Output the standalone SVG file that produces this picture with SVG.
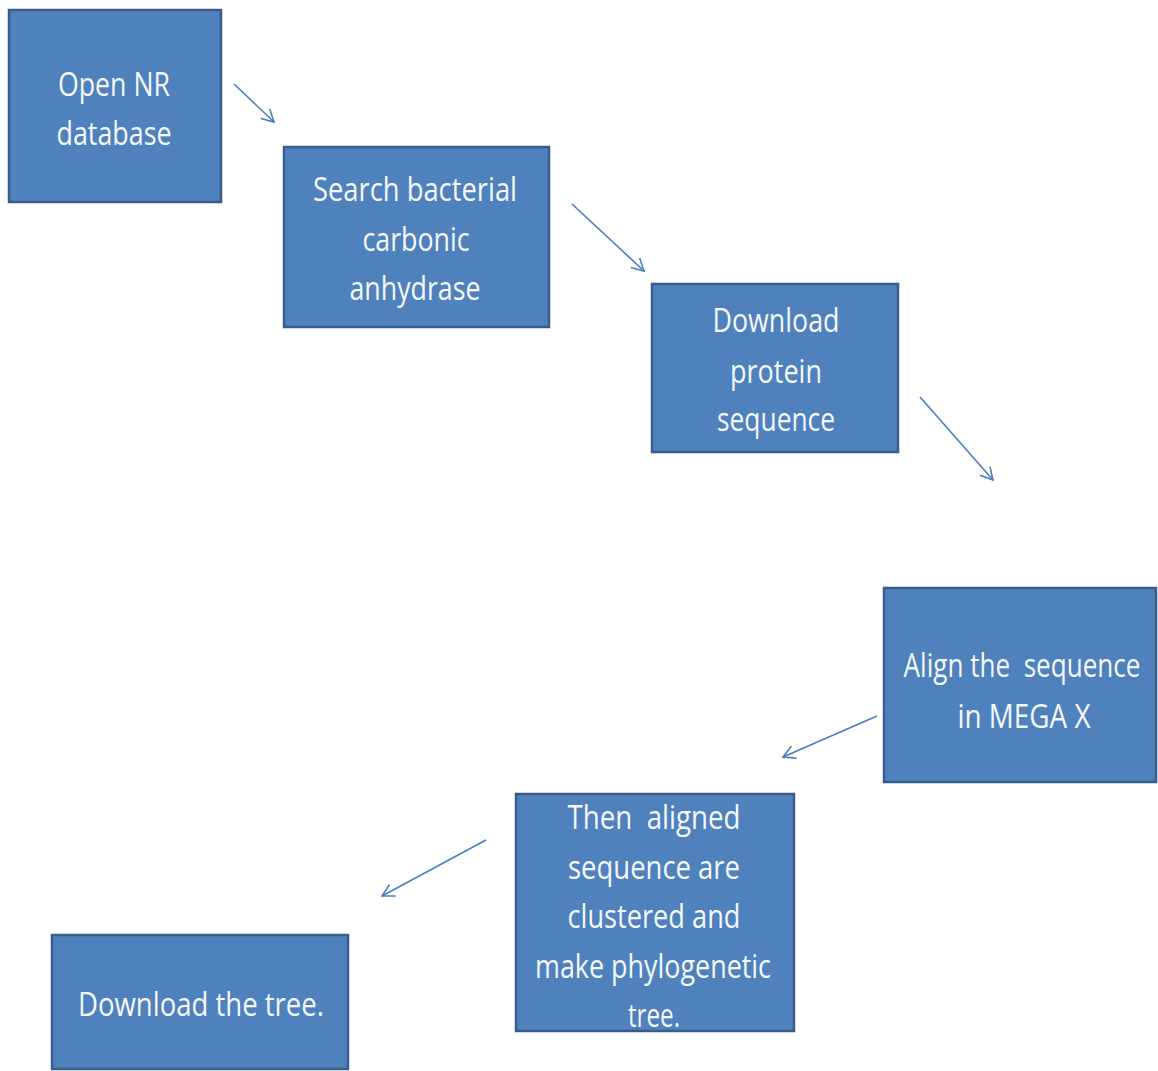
<svg xmlns="http://www.w3.org/2000/svg" width="1158" height="1071" viewBox="0 0 1158 1071">
<style>
.box{fill:#4F81BD;stroke:#385D8A;stroke-width:2.5}
.t{font-family:"Open Sans","Liberation Sans",sans-serif;font-size:32px;fill:#F4F8FC;text-anchor:middle;white-space:pre}
.c{stroke:#4A7EBB;stroke-width:1.6;fill:none}
</style>
<defs>
<marker id="ah" markerWidth="16" markerHeight="16" refX="13" refY="8" orient="auto" markerUnits="userSpaceOnUse">
<path d="M1,1.5 L13,8 L1,14.5" fill="none" stroke="#4A7EBB" stroke-width="1.6"/>
</marker>
</defs>
<rect width="1158" height="1071" fill="#FFFFFF"/>
<g id="connectors">
<line class="c" x1="234" y1="84" x2="274" y2="122" marker-end="url(#ah)"/>
<line class="c" x1="572" y1="204" x2="644" y2="271" marker-end="url(#ah)"/>
<line class="c" x1="920" y1="397" x2="993" y2="480" marker-end="url(#ah)"/>
<line class="c" x1="877" y1="716" x2="783" y2="757" marker-end="url(#ah)"/>
<line class="c" x1="486" y1="840" x2="382" y2="896" marker-end="url(#ah)"/>
</g>
<g id="n1">
<rect class="box" x="9" y="10" width="212" height="192"/>
<text class="t" x="114" y="96" textLength="112" lengthAdjust="spacingAndGlyphs">Open NR</text>
<text class="t" x="114" y="145" textLength="115" lengthAdjust="spacingAndGlyphs">database</text>
</g>
<g id="n2">
<rect class="box" x="284" y="147" width="265" height="180"/>
<text class="t" x="415" y="201" textLength="204" lengthAdjust="spacingAndGlyphs">Search bacterial</text>
<text class="t" x="416" y="251" textLength="107" lengthAdjust="spacingAndGlyphs">carbonic</text>
<text class="t" x="415" y="300" textLength="131" lengthAdjust="spacingAndGlyphs">anhydrase</text>
</g>
<g id="n3">
<rect class="box" x="652" y="284" width="246" height="168"/>
<text class="t" x="776" y="332" textLength="127" lengthAdjust="spacingAndGlyphs">Download</text>
<text class="t" x="776" y="383" textLength="92" lengthAdjust="spacingAndGlyphs">protein</text>
<text class="t" x="776" y="431" textLength="118" lengthAdjust="spacingAndGlyphs">sequence</text>
</g>
<g id="n4">
<rect class="box" x="884" y="588" width="272" height="194"/>
<text class="t" transform="translate(1022,677) scale(0.8,1)" x="0" y="0" textLength="296" lengthAdjust="spacingAndGlyphs" xml:space="preserve">Align the  sequence</text>
<text class="t" x="1024" y="728" textLength="133" lengthAdjust="spacingAndGlyphs">in MEGA X</text>
</g>
<g id="n5">
<rect class="box" x="516" y="794" width="278" height="237"/>
<text class="t" x="654" y="829" textLength="173" lengthAdjust="spacingAndGlyphs" xml:space="preserve">Then  aligned</text>
<text class="t" x="654" y="879" textLength="172" lengthAdjust="spacingAndGlyphs">sequence are</text>
<text class="t" x="654" y="928" textLength="173" lengthAdjust="spacingAndGlyphs">clustered and</text>
<text class="t" x="653" y="978" textLength="236" lengthAdjust="spacingAndGlyphs">make phylogenetic</text>
<text class="t" x="654" y="1027" textLength="52" lengthAdjust="spacingAndGlyphs">tree.</text>
</g>
<g id="n6">
<rect class="box" x="52" y="935" width="296" height="134"/>
<text class="t" x="201" y="1016" textLength="246" lengthAdjust="spacingAndGlyphs">Download the tree.</text>
</g>
</svg>
